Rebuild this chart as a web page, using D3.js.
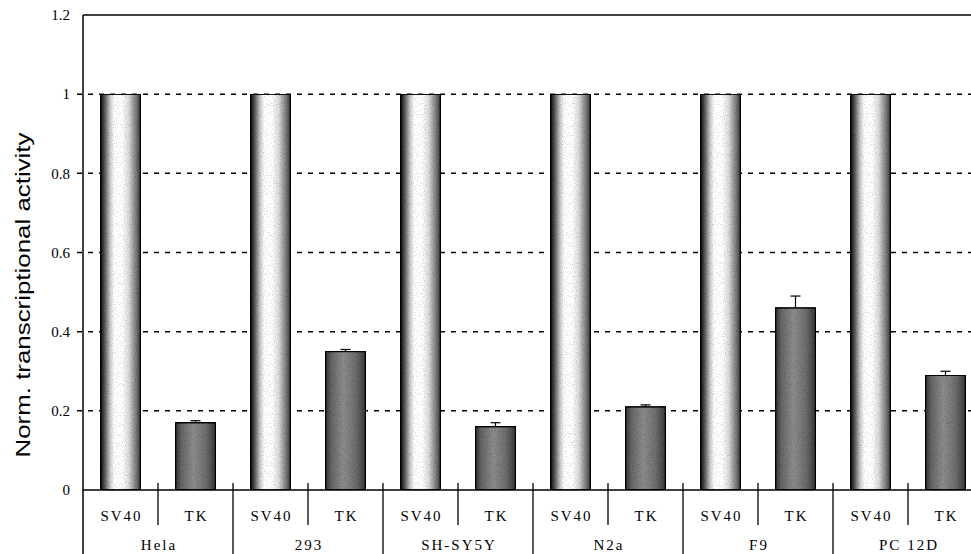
<!DOCTYPE html>
<html>
<head>
<meta charset="utf-8">
<script src="https://cdn.jsdelivr.net/npm/d3@7"></script>
<style>
  body { margin: 0; background: #fff; }
  svg { display: block; }
  .tick-lbl { font-family: "Liberation Serif", "DejaVu Serif", serif; font-size: 15px; fill: #000; }
  .cat-lbl { font-family: "Liberation Serif", "DejaVu Serif", serif; font-size: 15px; letter-spacing: 2px; fill: #000; }
  .ytitle { font-family: "Liberation Sans", Arial, sans-serif; font-size: 20px; fill: #000; }
</style>
</head>
<body>
<div class="wrapper"></div>
<script>
var width = 971,
    height = 554;

// data
var cells = ["Hela", "293", "SH-SY5Y", "N2a", "F9", "PC 12D"];
var promoters = ["SV40", "TK"];
var sv40Values = [1, 1, 1, 1, 1, 1];
var tkValues = [0.17, 0.35, 0.16, 0.21, 0.46, 0.29];
var tkErrors = [0.005, 0.005, 0.01, 0.005, 0.03, 0.01];
var yTicks = [0, 0.2, 0.4, 0.6, 0.8, 1, 1.2];

var plotLeft = 83, plotRight = 983, plotTop = 15, plotBase = 490;

var rows = [];
cells.forEach(function(c, i) {
  rows.push({ cell: c, prom: "SV40", value: sv40Values[i], err: 0 });
  rows.push({ cell: c, prom: "TK", value: tkValues[i], err: tkErrors[i] });
});
rows.forEach(function(d) { d.key = d.cell + "|" + d.prom; });

var x = d3.scaleBand()
    .domain(rows.map(function(d) { return d.key; }))
    .range([plotLeft, plotRight])
    .paddingInner(0.4667)
    .paddingOuter(0.4667 / 2);

var xGroup = d3.scaleBand().domain(cells).range([plotLeft, plotRight]);

var y = d3.scaleLinear().domain([0, 1.2]).range([plotBase, plotTop]);

var svg = d3.select(".wrapper").append("svg")
    .attr("width", width)
    .attr("height", height);

var defs = svg.append("defs");

// grainy halftone look
var grain = defs.append("filter").attr("id", "grain")
    .attr("x", 0).attr("y", 0).attr("width", 1).attr("height", 1);
grain.append("feTurbulence").attr("type", "fractalNoise")
    .attr("baseFrequency", 0.9).attr("numOctaves", 1).attr("seed", 3).attr("result", "noise");
grain.append("feColorMatrix").attr("in", "noise").attr("type", "matrix")
    .attr("values", "0 0 0 0 0  0 0 0 0 0  0 0 0 0 0  0 0 0 -1.2 0.6").attr("result", "speck");
grain.append("feComposite").attr("in", "speck").attr("in2", "SourceGraphic").attr("operator", "in").attr("result", "speckIn");
grain.append("feMerge").selectAll("feMergeNode")
    .data(["SourceGraphic", "speckIn"]).enter().append("feMergeNode").attr("in", function(d) { return d; });

var gSv = defs.append("linearGradient").attr("id", "gradSV40");
[[0, "#111"], [0.08, "#444"], [0.24, "#c8c8c8"], [0.34, "#fff"], [0.55, "#fff"], [0.7, "#dcdcdc"], [0.88, "#808080"], [1, "#3a3a3a"]]
  .forEach(function(s) { gSv.append("stop").attr("offset", s[0]).attr("stop-color", s[1]); });

var gTk = defs.append("linearGradient").attr("id", "gradTK");
[[0, "#333"], [0.15, "#666"], [0.45, "#8c8c8c"], [0.75, "#6e6e6e"], [1, "#3a3a3a"]]
  .forEach(function(s) { gTk.append("stop").attr("offset", s[0]).attr("stop-color", s[1]); });

// dashed grid lines
svg.append("g").selectAll("line")
    .data(yTicks.filter(function(t) { return t > 0 && t < 1.2; }))
  .enter().append("line")
    .attr("x1", plotLeft - 6).attr("x2", plotRight)
    .attr("y1", function(d) { return y(d); })
    .attr("y2", function(d) { return y(d); })
    .attr("stroke", "#000")
    .attr("stroke-width", 1.5)
    .attr("stroke-dasharray", "5,6");

// top frame
svg.append("line")
    .attr("x1", plotLeft).attr("x2", plotRight)
    .attr("y1", y(1.2)).attr("y2", y(1.2))
    .attr("stroke", "#000").attr("stroke-width", 1.5);

// bars
svg.append("g").selectAll("rect")
    .data(rows)
  .enter().append("rect")
    .attr("x", function(d) { return x(d.key); })
    .attr("y", function(d) { return y(d.value); })
    .attr("width", x.bandwidth())
    .attr("height", function(d) { return y(0) - y(d.value); })
    .attr("fill", function(d) { return d.prom === "SV40" ? "url(#gradSV40)" : "url(#gradTK)"; })
    .attr("filter", "url(#grain)")
    .attr("stroke", "#000")
    .attr("stroke-width", 1.5);

// error bars
var eb = svg.append("g").selectAll("g")
    .data(rows.filter(function(d) { return d.err > 0; }))
  .enter().append("g");
eb.append("line")
    .attr("x1", function(d) { return x(d.key) + x.bandwidth() / 2; })
    .attr("x2", function(d) { return x(d.key) + x.bandwidth() / 2; })
    .attr("y1", function(d) { return y(d.value); })
    .attr("y2", function(d) { return y(d.value + d.err); })
    .attr("stroke", "#000").attr("stroke-width", 1.2);
eb.append("line")
    .attr("x1", function(d) { return x(d.key) + x.bandwidth() / 2 - 5; })
    .attr("x2", function(d) { return x(d.key) + x.bandwidth() / 2 + 5; })
    .attr("y1", function(d) { return y(d.value + d.err); })
    .attr("y2", function(d) { return y(d.value + d.err); })
    .attr("stroke", "#000").attr("stroke-width", 1.2);

// y axis
svg.append("line")
    .attr("x1", plotLeft).attr("x2", plotLeft)
    .attr("y1", y(1.2)).attr("y2", height)
    .attr("stroke", "#000").attr("stroke-width", 1.5);

svg.append("g").selectAll("text")
    .data(yTicks)
  .enter().append("text")
    .attr("class", "tick-lbl")
    .attr("x", 70)
    .attr("y", function(d) { return y(d); })
    .attr("dy", "0.35em")
    .attr("text-anchor", "end")
    .text(function(d) { return d3.format("")(d); });

svg.append("text")
    .attr("class", "ytitle")
    .attr("transform", "translate(30," + 295 + ") rotate(-90)")
    .attr("text-anchor", "middle")
    .attr("textLength", 325)
    .attr("lengthAdjust", "spacingAndGlyphs")
    .text("Norm. transcriptional activity");

// category axis
svg.append("line")
    .attr("x1", plotLeft).attr("x2", plotRight)
    .attr("y1", plotBase).attr("y2", plotBase)
    .attr("stroke", "#000").attr("stroke-width", 1.5);

// dividers between promoters
svg.append("g").selectAll("line")
    .data(cells)
  .enter().append("line")
    .attr("x1", function(d) { return xGroup(d) + xGroup.bandwidth() / 2; })
    .attr("x2", function(d) { return xGroup(d) + xGroup.bandwidth() / 2; })
    .attr("y1", plotBase - 7).attr("y2", 525)
    .attr("stroke", "#000").attr("stroke-width", 1.3);

// dividers between cell lines
svg.append("g").selectAll("line")
    .data(cells.slice(1))
  .enter().append("line")
    .attr("x1", function(d) { return xGroup(d); })
    .attr("x2", function(d) { return xGroup(d); })
    .attr("y1", plotBase - 7).attr("y2", height)
    .attr("stroke", "#000").attr("stroke-width", 1.3);

svg.append("g").selectAll("text")
    .data(rows)
  .enter().append("text")
    .attr("class", "cat-lbl")
    .attr("x", function(d) { return x(d.key) + x.bandwidth() / 2 + 1; })
    .attr("y", 521)
    .attr("text-anchor", "middle")
    .text(function(d) { return d.prom; });

svg.append("g").selectAll("text")
    .data(cells)
  .enter().append("text")
    .attr("class", "cat-lbl")
    .attr("x", function(d) { return xGroup(d) + xGroup.bandwidth() / 2 + 1; })
    .attr("y", 550)
    .attr("text-anchor", "middle")
    .text(function(d) { return d; });
</script>
</body>
</html>
